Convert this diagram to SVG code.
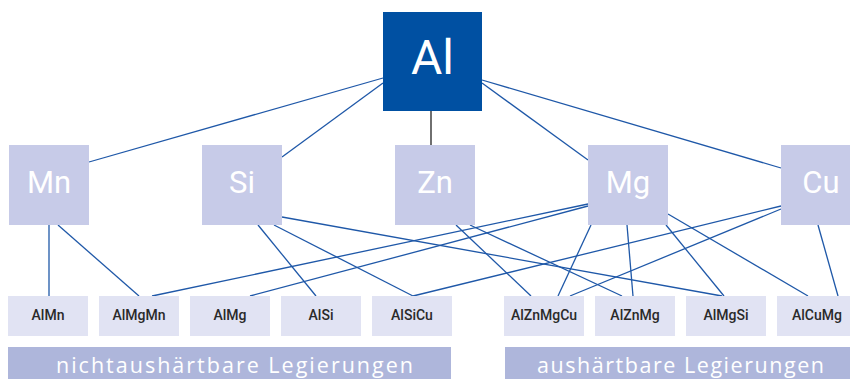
<svg xmlns="http://www.w3.org/2000/svg" width="850" height="379" viewBox="0 0 850 379">
<style>
.top{fill:#C7CBE8}
.bot{fill:#E1E3F3}
.leg{fill:#AEB6DB}
.tt{font-family:Roboto,"Noto Sans",sans-serif;font-size:31px;fill:#fff;text-anchor:middle}
.bt{font-family:Roboto,"Noto Sans",sans-serif;font-size:14px;font-weight:500;fill:#2a2a2a;text-anchor:middle}
.lt{font-family:"Open Sans","Noto Sans",sans-serif;font-size:21.5px;fill:#fff}
.c line{stroke:#1F58A8;stroke-width:1.3}
</style>
<rect width="850" height="379" fill="#fff"/>
<g id="connectors" class="c">
<line x1="431" y1="111" x2="431" y2="145" style="stroke:#222"/>
<line x1="383" y1="78" x2="89" y2="162"/>
<line x1="383" y1="83" x2="282" y2="157"/>
<line x1="482" y1="83" x2="588" y2="160"/>
<line x1="482" y1="80" x2="781" y2="168"/>
<line x1="49" y1="225" x2="49" y2="296"/>
<line x1="58" y1="225" x2="139" y2="296"/>
<line x1="282" y1="217" x2="722" y2="296"/>
<line x1="258" y1="225" x2="316" y2="296"/>
<line x1="274" y1="225" x2="413" y2="296"/>
<line x1="456" y1="225" x2="531" y2="296"/>
<line x1="470" y1="225" x2="622" y2="296"/>
<line x1="588" y1="204" x2="152" y2="296"/>
<line x1="588" y1="206" x2="250" y2="296"/>
<line x1="591" y1="225" x2="558" y2="296"/>
<line x1="627" y1="225" x2="633" y2="296"/>
<line x1="666" y1="225" x2="724" y2="296"/>
<line x1="668" y1="214" x2="808" y2="296"/>
<line x1="781" y1="206" x2="413" y2="296"/>
<line x1="781" y1="209" x2="570" y2="296"/>
<line x1="818" y1="225" x2="838" y2="296"/>
</g>
<g id="Al"><rect x="383" y="12" width="99" height="99" fill="#0050A2"/><text x="432.5" y="74" font-family="Roboto,'Noto Sans',sans-serif" font-size="48" fill="#fff" text-anchor="middle">Al</text></g>
<g id="Mn"><rect class="top" x="9" y="145" width="80" height="80"/><text class="tt" x="49" y="193">Mn</text></g>
<g id="Si"><rect class="top" x="202" y="145" width="80" height="80"/><text class="tt" x="242" y="193">Si</text></g>
<g id="Zn"><rect class="top" x="395" y="145" width="80" height="80"/><text class="tt" x="435" y="193">Zn</text></g>
<g id="Mg"><rect class="top" x="588" y="145" width="80" height="80"/><text class="tt" x="628" y="193">Mg</text></g>
<g id="Cu"><rect class="top" x="781" y="145" width="80" height="80"/><text class="tt" x="821" y="193">Cu</text></g>
<g id="AlMn"><rect class="bot" x="8" y="296" width="80" height="40"/><text class="bt" x="48" y="320">AlMn</text></g>
<g id="AlMgMn"><rect class="bot" x="99" y="296" width="80" height="40"/><text class="bt" x="139" y="320">AlMgMn</text></g>
<g id="AlMg"><rect class="bot" x="190" y="296" width="80" height="40"/><text class="bt" x="230" y="320">AlMg</text></g>
<g id="AlSi"><rect class="bot" x="281" y="296" width="80" height="40"/><text class="bt" x="321" y="320">AlSi</text></g>
<g id="AlSiCu"><rect class="bot" x="372" y="296" width="80" height="40"/><text class="bt" x="412" y="320">AlSiCu</text></g>
<g id="AlZnMgCu"><rect class="bot" x="504" y="296" width="80" height="40"/><text class="bt" x="544" y="320">AlZnMgCu</text></g>
<g id="AlZnMg"><rect class="bot" x="595" y="296" width="80" height="40"/><text class="bt" x="635" y="320">AlZnMg</text></g>
<g id="AlMgSi"><rect class="bot" x="686" y="296" width="80" height="40"/><text class="bt" x="726" y="320">AlMgSi</text></g>
<g id="AlCuMg"><rect class="bot" x="777" y="296" width="80" height="40"/><text class="bt" x="817" y="320">AlCuMg</text></g>
<g id="legend-non"><rect class="leg" x="8" y="347" width="443" height="32"/><text class="lt" x="56" y="373" textLength="357" lengthAdjust="spacing">nichtaushärtbare Legierungen</text></g>
<g id="legend-hard"><rect class="leg" x="505" y="347" width="352" height="32"/><text class="lt" x="537" y="373" textLength="287" lengthAdjust="spacing">aushärtbare Legierungen</text></g>
</svg>
